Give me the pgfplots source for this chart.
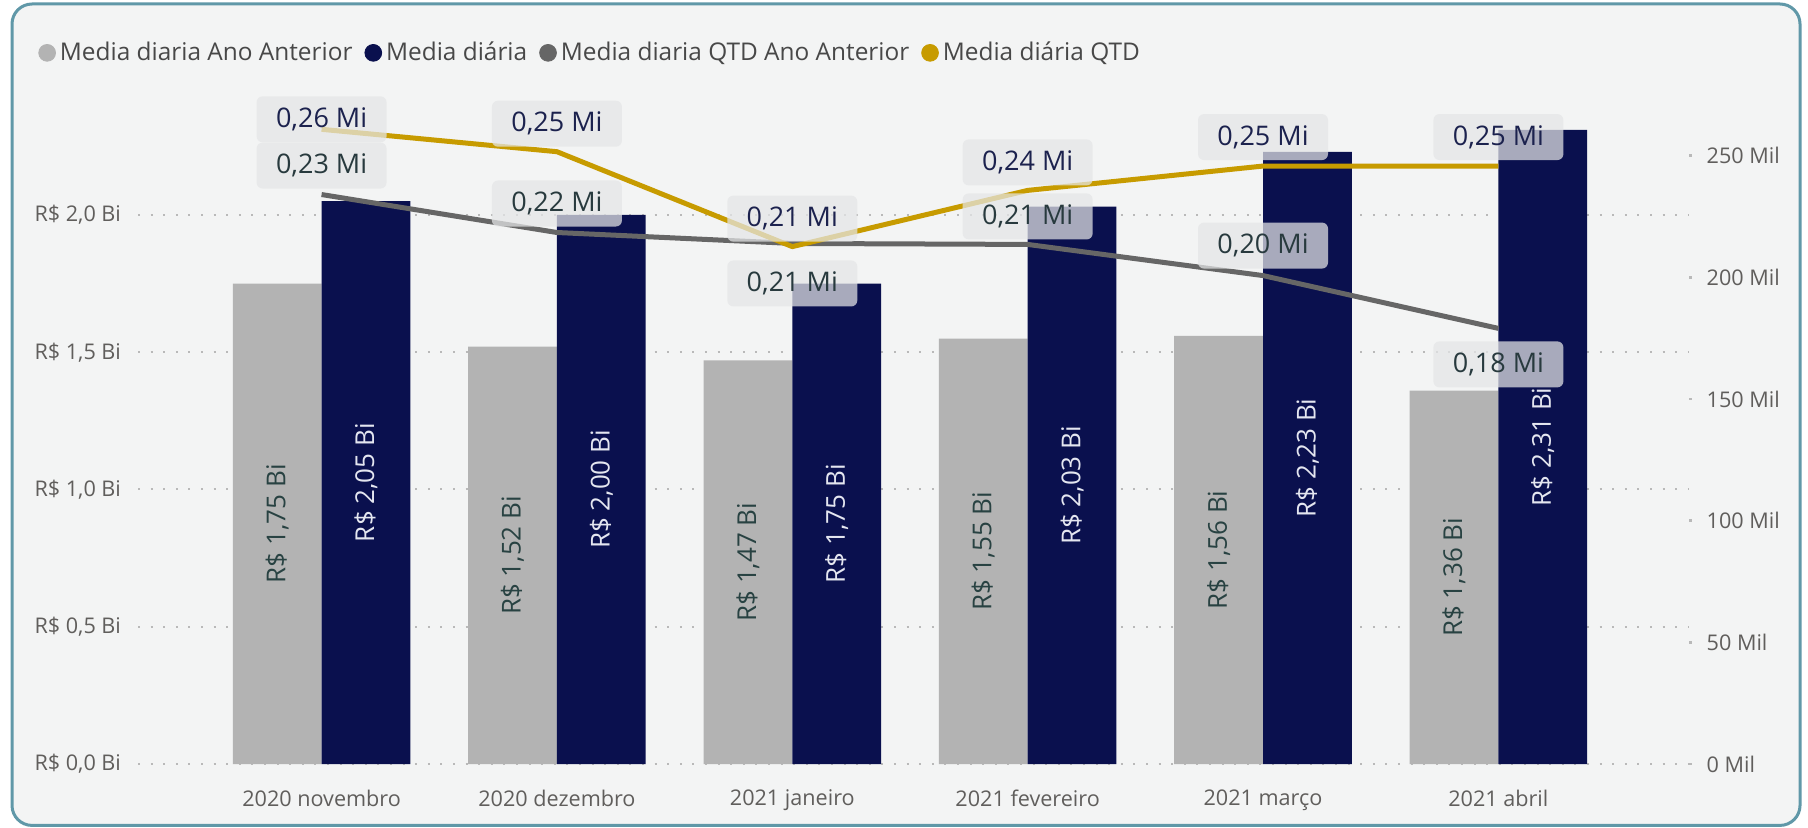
\documentclass[border=0pt]{standalone}
\usepackage{fontspec}
\setmainfont{Open Sans}
\usepackage{pgfplots}
\usepackage{pgfplotstable}
\pgfplotsset{compat=1.18}

\definecolor{bgc}{RGB}{243,244,244}
\definecolor{framec}{RGB}{96,152,168}
\definecolor{prevc}{RGB}{179,179,179}
\definecolor{curc}{RGB}{10,16,78}
\definecolor{goldc}{RGB}{199,155,0}
\definecolor{qtdc}{RGB}{102,102,102}
\definecolor{tickc}{RGB}{96,94,92}
\definecolor{legc}{RGB}{72,72,72}
\definecolor{gridc}{RGB}{185,185,185}
\definecolor{boxc}{RGB}{229,230,231}
\definecolor{prevtxt}{RGB}{40,66,66}
\definecolor{curtxt}{RGB}{228,230,240}
\definecolor{goldtxt}{RGB}{28,34,78}
\definecolor{graytxt}{RGB}{40,58,62}

% bar values in R$ Bi
\pgfplotstableread{
x prev cur
0 1.75 2.05
1 1.52 2.00
2 1.47 1.75
3 1.55 2.03
4 1.56 2.23
5 1.36 2.31
}\bardata

% line values in Mil, label offsets in pt
\pgfplotstableread{
x qtd qoff qtdprev poff
0 260.8 5 234.0 14.5
1 251.6 14 218.4 14.5
2 212.6 14 213.9 -20
3 235.7 14 213.5 14
4 245.7 14.5 200.7 15
5 245.7 14.5 179.0 -18
}\linedata

\pgfplotsset{
  common/.style={
    scale only axis, width=775.5pt, height=334.5pt,
    at={(69pt,31.5pt)}, anchor=south west,
    xmin=-0.78, xmax=5.81, ymin=0,
    axis line style={draw=none},
    /pgf/number format/assume math mode=true,
    ticklabel style={font=\fontsize{10.8}{13}\selectfont, text=tickc},
  },
}
\tikzset{
  lbl/.style={fill=boxc, fill opacity=0.72, text opacity=1, rounded corners=3pt,
    inner sep=0pt, minimum width=65pt, minimum height=23pt, anchor=center,
    font=\fontsize{13.5}{16}\selectfont},
}

\begin{document}
\begin{tikzpicture}
\useasboundingbox (0,0) rectangle (904pt,413.5pt);
\fill[white] (0,0) rectangle (904pt,413.5pt);
\draw[framec, line width=1.5pt, fill=bgc, rounded corners=10pt] (6pt,0.8pt) rectangle (900pt,411.5pt);

\begin{axis}[common, ymax=2.437,
  xtick={0,1,2,3,4,5},
  xticklabels={2020 novembro, 2020 dezembro, 2021 janeiro, 2021 fevereiro, 2021 março, 2021 abril},
  xtick style={draw=none}, ytick style={draw=none},
  ytick={0,0.5,1,1.5,2},
  yticklabel={R\$ \pgfmathprintnumber[fixed,fixed zerofill,precision=1,use comma]{\tick} Bi},
  yticklabel style={xshift=-5pt},
  xticklabel style={yshift=-5pt},
  ymajorgrids, grid style={gridc, line width=1pt, dash pattern=on 1pt off 5.3pt},
  ybar=0pt, bar width=44.4pt,
  nodes near coords={R\$ \pgfmathprintnumber[fixed,fixed zerofill,precision=2,use comma]{\pgfplotspointmeta} Bi},
  nodes near coords align={center},
  every node near coord/.append style={anchor=center, font=\fontsize{13}{15}\selectfont,
    shift={(axis direction cs:0,-\rawy/2)}, rotate=90},
]
\addplot[fill=prevc, draw=none, visualization depends on={\thisrow{prev} \as \rawy},
  every node near coord/.append style={text=prevtxt}] table[x=x,y=prev]{\bardata};
\addplot[fill=curc, draw=none, visualization depends on={\thisrow{cur} \as \rawy},
  every node near coord/.append style={text=curtxt}] table[x=x,y=cur]{\bardata};
\end{axis}

\begin{axis}[common, ymax=274.9, clip=false,
  xtick=\empty,
  ytick={0,50,100,150,200,250}, ytick pos=right, yticklabel pos=right,
  yticklabel={\pgfmathprintnumber{\tick} Mil},
  ytick style={draw=gridc, line width=1.3pt}, major tick length=1.3pt, tick align=outside,
  yticklabel style={xshift=4pt},
  legend image code/.code={\fill[#1] (4pt,0pt) circle (4.2pt);},
  legend style={at={(-0.0645,1.063)}, anchor=west, draw=none, fill=none, inner sep=0pt,
    font=\fontsize{12.2}{14}\selectfont, text=legc, legend columns=-1,
    /tikz/every even column/.append style={column sep=4pt}},
]
\addlegendimage{prevc}
\addlegendimage{curc}
\addlegendimage{qtdc}
\addlegendimage{goldc}

\addplot[qtdc, line width=2.5pt, line join=round, forget plot] table[x=x,y=qtdprev]{\linedata};
\addplot[goldc, line width=2.5pt, line join=round, forget plot] table[x=x,y=qtd]{\linedata};

\addplot[draw=none, forget plot,
  nodes near coords={\pgfmathprintnumber[fixed,fixed zerofill,precision=2,use comma]{\pgfplotspointmeta} Mi},
  point meta={\thisrow{qtdprev}/1000},
  visualization depends on={\thisrow{poff} \as \off},
  every node near coord/.append style={lbl, text=graytxt, yshift=\off}]
  table[x=x,y=qtdprev]{\linedata};
\addplot[draw=none, forget plot,
  nodes near coords={\pgfmathprintnumber[fixed,fixed zerofill,precision=2,use comma]{\pgfplotspointmeta} Mi},
  point meta={\thisrow{qtd}/1000},
  visualization depends on={\thisrow{qoff} \as \off},
  every node near coord/.append style={lbl, text=goldtxt, yshift=\off}]
  table[x=x,y=qtd]{\linedata};

\legend{Media diaria Ano Anterior, Media diária, Media diaria QTD Ano Anterior, Media diária QTD}
\end{axis}
\end{tikzpicture}
\end{document}
